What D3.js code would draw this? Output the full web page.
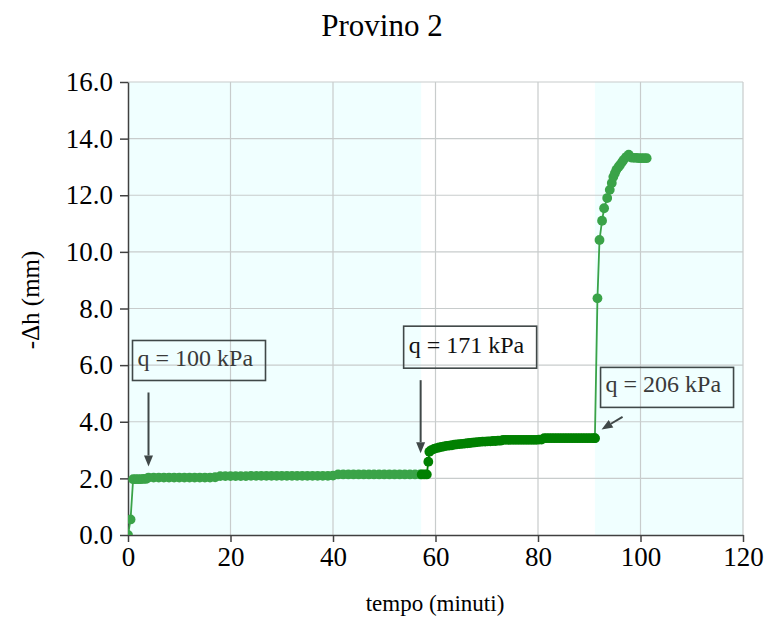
<!DOCTYPE html>
<html><head><meta charset="utf-8">
<script src="https://cdn.jsdelivr.net/npm/d3@7/dist/d3.min.js"></script>
<style>body{margin:0;background:#fff}</style>
</head><body><svg id="chart" width="765" height="620"></svg>
<script>
const chartTitle = "Provino 2";
const xTitle = "tempo (minuti)";
const yTitle = "-\u0394h (mm)";
const xTicks = [0, 20, 40, 60, 80, 100, 120];
const yTicks = [0, 2, 4, 6, 8, 10, 12, 14, 16];
const shadedStart = [0, 91.1];
const shadedEnd = [57.2, 120];

const stage1Time = [0, 0.5, 1, 1.5, 2, 2.5, 3, 3.5,
  4, 5, 6, 7, 8, 9, 10, 11, 12, 13, 14, 15, 16, 17,
  18, 19, 20, 21, 22, 23, 24, 25, 26, 27, 28, 29, 30, 31, 32, 33, 34, 35, 36, 37, 38, 39, 40,
  41, 42, 43, 44, 45, 46, 47, 48, 49, 50, 51, 52, 53, 54, 55, 56, 57];
const stage1Value = [0, 0.55, 1.97, 1.97, 1.97, 1.97, 1.98, 1.98,
  2.03, 2.03, 2.03, 2.03, 2.03, 2.03, 2.03, 2.03, 2.03, 2.03, 2.03, 2.03, 2.03, 2.04,
  2.08, 2.08, 2.08, 2.08, 2.08, 2.08, 2.09, 2.09, 2.09, 2.09, 2.09, 2.09, 2.09, 2.09, 2.09, 2.09, 2.09, 2.09, 2.09, 2.09, 2.09, 2.09, 2.10,
  2.14, 2.14, 2.14, 2.14, 2.14, 2.14, 2.14, 2.14, 2.14, 2.14, 2.14, 2.14, 2.14, 2.14, 2.14, 2.14, 2.14];

const stage2Time = [57.3, 57.8, 58.3, 58.6, 58.8, 59.2, 59.7, 60.2, 60.7, 61.2, 61.7, 62.2, 62.7, 63.2, 63.7,
  64.2, 64.7, 65.2, 65.7, 66.2, 66.7, 67.2, 67.7, 68.2, 68.7, 69.2, 69.7, 70.2, 70.7, 71.2, 71.7, 72.2, 72.7,
  73.2, 73.7, 74.2, 74.7, 75.2, 75.7, 76.2, 76.7, 77.2, 77.7, 78.2, 78.7, 79.2, 79.7, 80.2, 80.7,
  81.2, 81.7, 82.2, 82.7, 83.2, 83.7, 84.2, 84.7, 85.2, 85.7, 86.2, 86.7, 87.2, 87.7, 88.2, 88.7, 89.2, 89.7, 90.2, 90.7, 91.1];
const stage2Value = [2.14, 2.14, 2.14, 2.59, 2.94, 3.00, 3.04, 3.07, 3.09, 3.11, 3.13, 3.15, 3.16, 3.17, 3.19,
  3.20, 3.21, 3.22, 3.23, 3.24, 3.25, 3.26, 3.27, 3.28, 3.29, 3.30, 3.30, 3.31, 3.31, 3.32, 3.32, 3.33, 3.33,
  3.36, 3.36, 3.36, 3.36, 3.36, 3.36, 3.36, 3.36, 3.36, 3.36, 3.36, 3.36, 3.36, 3.36, 3.37, 3.37,
  3.42, 3.42, 3.42, 3.42, 3.42, 3.42, 3.42, 3.42, 3.42, 3.42, 3.42, 3.42, 3.42, 3.42, 3.42, 3.42, 3.42, 3.42, 3.42, 3.42, 3.42];

const stage3Time = [91.1, 91.6, 92.0, 92.5, 92.9, 93.5, 94.0, 94.4, 94.7, 95.0, 95.3, 95.7, 96.0, 96.4, 96.7, 97.2, 97.7,
  98.2, 98.7, 99.2, 99.7, 100.2, 100.7, 101.2];
const stage3Value = [3.42, 8.36, 10.42, 11.10, 11.54, 11.90, 12.19, 12.43, 12.65, 12.78, 12.90, 13.00, 13.07, 13.17, 13.25, 13.35, 13.43,
  13.33, 13.32, 13.32, 13.31, 13.31, 13.31, 13.31];

const noteText = ["q = 100 kPa", "q = 171 kPa", "q = 206 kPa"];
const noteTipTime = [4.0, 57.1, 92.4];
const noteTipValue = [2.42, 2.89, 3.73];

const lightGreen = "#3aa348", darkGreen = "#008000";
const font = "'Liberation Serif','Times New Roman',serif";

const W = 765, H = 620;
const margin = {left: 128, top: 82, right: 22, bottom: 85};
const svg = d3.select("#chart");
const x = d3.scaleLinear().domain([0, 120]).range([margin.left, W - margin.right]);
const y = d3.scaleLinear().domain([0, 16]).range([H - margin.bottom, margin.top]);

svg.append("defs").append("clipPath").attr("id", "plotclip")
  .append("rect").attr("x", x(0)).attr("y", y(16)).attr("width", x(120) - x(0)).attr("height", y(0) - y(16));

// shaded zones
svg.append("g").selectAll("rect").data(shadedStart.map((s, i) => [s, shadedEnd[i]])).join("rect")
  .attr("x", d => x(d[0])).attr("width", d => x(d[1]) - x(d[0]))
  .attr("y", y(16)).attr("height", y(0) - y(16)).attr("fill", "#f0ffff");

// gridlines
const grid = svg.append("g").attr("stroke", "#c8cccc").attr("stroke-width", 1.2);
grid.selectAll(".gx").data(xTicks.filter(d => d > 0)).join("line")
  .attr("x1", d => x(d)).attr("x2", d => x(d)).attr("y1", y(0)).attr("y2", y(16));
grid.selectAll(".gy").data(yTicks.filter(d => d > 0)).join("line")
  .attr("x1", x(0)).attr("x2", x(120)).attr("y1", d => y(d)).attr("y2", d => y(d));

// axes
const xAxis = svg.append("g").attr("transform", `translate(0,${y(0)})`)
  .call(d3.axisBottom(x).tickValues(xTicks).tickFormat(d3.format("d")).tickSize(7).tickSizeOuter(0));
const yAxis = svg.append("g").attr("transform", `translate(${x(0)},0)`)
  .call(d3.axisLeft(y).tickValues(yTicks).tickFormat(d => d.toFixed(1)).tickSize(8).tickSizeOuter(0));
[xAxis, yAxis].forEach(a => {
  a.selectAll("path,line").attr("stroke", "#404040").attr("stroke-width", 1.5);
  a.selectAll("text").attr("font-family", font).attr("font-size", 27).attr("fill", "#000");
});
xAxis.selectAll("text").attr("dy", "0.78em");
yAxis.selectAll("text").attr("dx", "-0.15em");

// series
const line = d3.line().x(d => x(d[0])).y(d => y(d[1]));
const plot = svg.append("g").attr("clip-path", "url(#plotclip)");
function drawSeries(times, vals, color) {
  const pts = times.map((t, i) => [t, vals[i]]);
  plot.append("path").datum(pts).attr("d", line).attr("fill", "none").attr("stroke", color).attr("stroke-width", 1.8);
  plot.append("g").selectAll("circle").data(pts).join("circle")
    .attr("cx", d => x(d[0])).attr("cy", d => y(d[1])).attr("r", 4.9).attr("fill", color);
}
drawSeries(stage1Time, stage1Value, lightGreen);
drawSeries(stage3Time, stage3Value, lightGreen);
drawSeries(stage2Time, stage2Value, darkGreen);

// annotations
const boxOff = [{dx: -16, dy: -126, h: 40, ty: 26}, {dx: -17, dy: -127, h: 42, ty: 27}, {dx: -1, dy: -62, h: 40, ty: 25}];
const arrowFrom = [{dx: 0, dy: -74}, {dx: 0, dy: -73}, {dx: 21, dy: -12.6}];
const notes = svg.append("g");
noteText.forEach((txt, i) => {
  const tx = x(noteTipTime[i]), ty = y(noteTipValue[i]);
  const b = boxOff[i];
  const bx = tx + b.dx, by = ty + b.dy;
  notes.append("rect").attr("x", bx).attr("y", by).attr("width", 133).attr("height", b.h)
    .attr("fill", "none").attr("stroke", "#404848").attr("stroke-width", 1.6);
  notes.append("text").attr("x", bx + 5).attr("y", by + b.ty).text(txt)
    .attr("font-family", font).attr("font-size", 24).attr("fill", i === 1 ? "#111" : "#3a3a3a");
  const fx = tx + arrowFrom[i].dx, fy = ty + arrowFrom[i].dy;
  const ang = Math.atan2(ty - fy, tx - fx);
  const hl = 11, hw = 4.5;
  const bxh = tx - hl * Math.cos(ang), byh = ty - hl * Math.sin(ang);
  notes.append("line").attr("x1", fx).attr("y1", fy).attr("x2", bxh).attr("y2", byh)
    .attr("stroke", "#404848").attr("stroke-width", 2);
  const px = -Math.sin(ang) * hw, py = Math.cos(ang) * hw;
  notes.append("path").attr("d", `M${tx},${ty}L${bxh + px},${byh + py}L${bxh - px},${byh - py}Z`).attr("fill", "#404848");
});

// titles
svg.append("text").attr("x", 382).attr("y", 36).attr("text-anchor", "middle")
  .attr("font-family", font).attr("font-size", 31).text(chartTitle);
svg.append("text").attr("x", 435).attr("y", 611).attr("text-anchor", "middle")
  .attr("font-family", font).attr("font-size", 23).text(xTitle);
svg.append("text").attr("transform", "translate(39,300) rotate(-90)").attr("text-anchor", "middle")
  .attr("font-family", font).attr("font-size", 25).text(yTitle);
</script></body></html>
